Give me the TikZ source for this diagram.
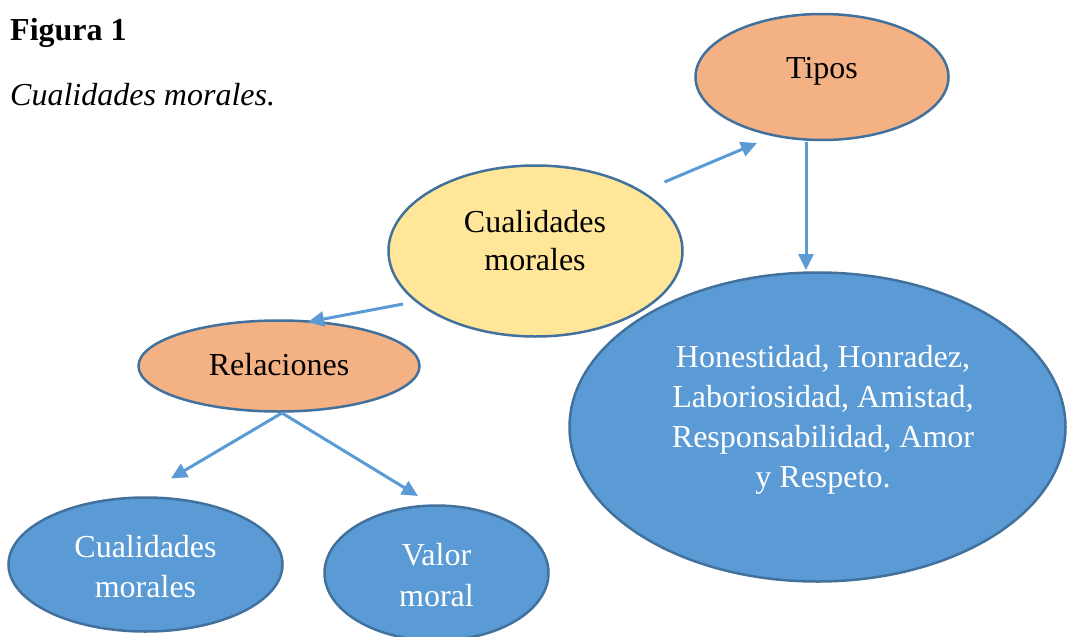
\documentclass[tikz,border=0pt]{standalone}
\usepackage{fontspec}
\setmainfont{Liberation Serif}
\usetikzlibrary{arrows.meta,shapes.geometric}
\definecolor{orng}{HTML}{F4B183}
\definecolor{yel}{HTML}{FFE699}
\definecolor{blu}{HTML}{5B9BD5}
\definecolor{bord}{HTML}{41719C}
\definecolor{arrc}{HTML}{5B9BD5}
\begin{document}
\begin{tikzpicture}[x=1pt,y=-1pt,
  ell/.style={ellipse, draw=bord, line width=2.5pt, inner sep=0pt},
  txt/.style={inner sep=0pt, align=center, font=\fontsize{32}{40}\selectfont, anchor=base},
  wtxt/.style={txt, text=white},
  arr/.style={draw=arrc, line width=3pt, -{Triangle[length=16pt,width=15pt]}}]
\useasboundingbox[fill=white] (0,0) rectangle (1068,637);

% title
\node[anchor=base west, inner sep=0pt, font=\bfseries\fontsize{32}{40}\selectfont] (fig) at (10,40) {Figura 1};
\node[anchor=base west, inner sep=0pt, font=\itshape\fontsize{32}{40}\selectfont] (cap) at (10,105) {Cualidades morales.};

% ellipses
\node[ell, fill=orng, minimum width=253pt, minimum height=126pt] (tp) at (822,77) {};
\node[ell, fill=yel, minimum width=294pt, minimum height=171pt] (cm) at (535.5,251) {};
\node[ell, fill=orng, minimum width=281pt, minimum height=91pt] (rel) at (279,366) {};
\node[ell, fill=blu, minimum width=496pt, minimum height=309pt] (big) at (817.5,427) {};
\node[ell, fill=blu, minimum width=274pt, minimum height=134pt] (bl) at (145.5,564.5) {};
\node[ell, fill=blu, minimum width=224pt, minimum height=135pt] (vm) at (436.5,573) {};

% texts (base anchor = baseline of the last line)
\node[txt] (tpT) at (822,78) {Tipos};
\node[txt, font=\fontsize{32}{38}\selectfont] (cmT) at (535,270) {Cualidades\\morales};
\node[txt] (relT) at (279,375) {Relaciones};
\node[wtxt] (bigT) at (823,487) {Honestidad, Honradez,\\Laboriosidad, Amistad,\\Responsabilidad, Amor\\y Respeto.};
\node[wtxt] (blT) at (145.5,597) {Cualidades\\morales};
\node[wtxt, font=\fontsize{32}{41}\selectfont] (vmT) at (436.5,606) {Valor\\moral};

% connectors
\draw[arr] ([shift={(129,-69)}]cm.center) -- ([shift={(-65,66)}]tp.center);
\draw[arr] ([shift={(-16,65)}]tp.center) -- ([shift={(-11.5,-157)}]big.center);
\draw[arr] ([shift={(-132.5,53)}]cm.center) -- ([shift={(29,-44)}]rel.center);
\draw[arr] ([shift={(3,47)}]rel.center) -- ([shift={(25.5,-86)}]bl.center);
\draw[arr] ([shift={(3,47)}]rel.center) -- ([shift={(-18.5,-77)}]vm.center);
\end{tikzpicture}
\end{document}
